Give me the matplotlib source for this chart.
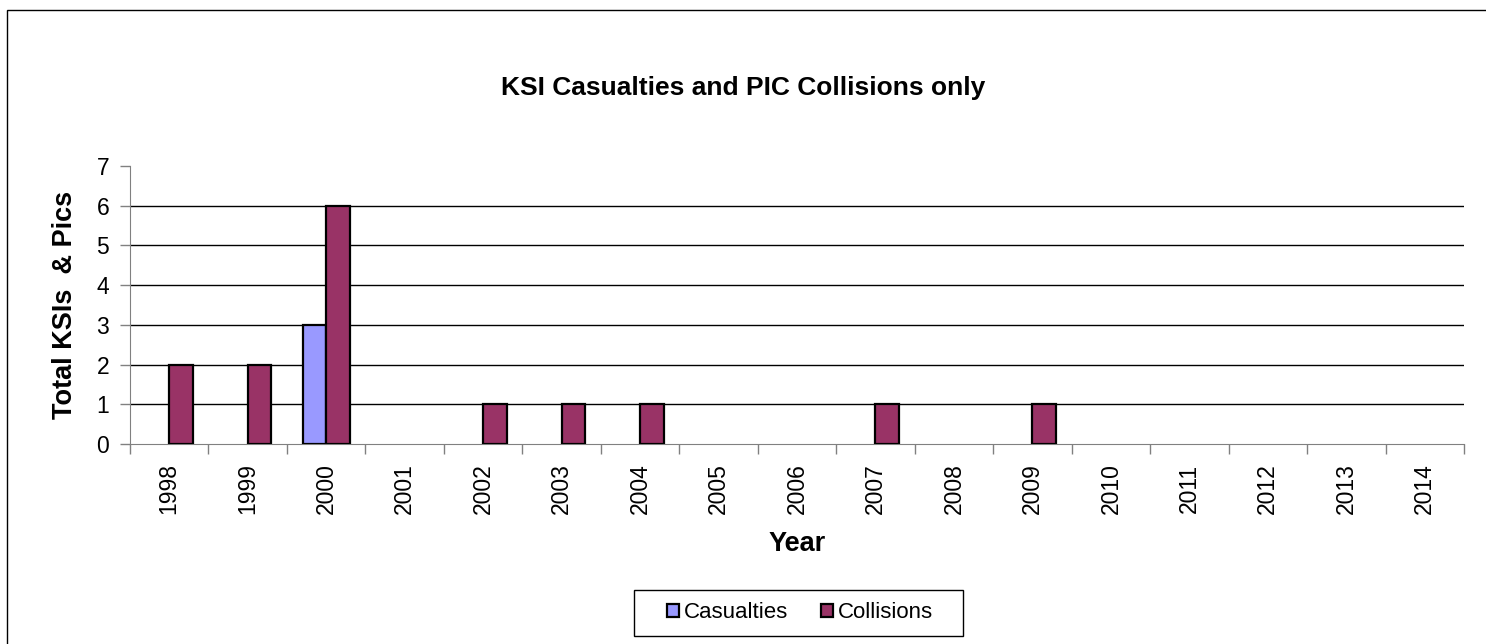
import numpy as np
import matplotlib.pyplot as plt
from matplotlib.patches import Rectangle

years = [str(y) for y in range(1998, 2015)]
casualties = [0, 0, 3, 0, 0, 0, 0, 0, 0, 0, 0, 0, 0, 0, 0, 0, 0]
collisions = [2, 2, 6, 0, 1, 1, 1, 0, 0, 1, 0, 1, 0, 0, 0, 0, 0]

plt.rcParams['font.family'] = ['Liberation Sans', 'DejaVu Sans']

fig = plt.figure(figsize=(14.86, 6.44), dpi=100)
ax = fig.add_axes([130/1486, 1-444/644, (1464-130)/1486, (444-166)/644])

# outer chart border (top and left only visible)
fig.add_artist(Rectangle((7/1486, -0.1), 1.2, 1-10/644+0.1, transform=fig.transFigure,
                         fill=False, edgecolor='black', linewidth=1))

x = np.arange(len(years))
w = 0.3
cas = np.array(casualties)
col = np.array(collisions)
ax.bar(x[cas > 0] - w/2, cas[cas > 0], width=w,
       color='#9999FF', edgecolor='black', linewidth=1.6, label='Casualties', zorder=3)
ax.bar(x[col > 0] + w/2, col[col > 0], width=w,
       color='#993366', edgecolor='black', linewidth=1.6, label='Collisions', zorder=3)

ax.set_xlim(-0.5, len(years) - 0.5)
ax.set_ylim(0, 7)
ax.set_yticks(range(8))
ax.tick_params(axis='y', labelsize=16.5, length=7, width=1, color='#808080', pad=8)
for yv in range(1, 7):
    ax.axhline(yv, color='black', linewidth=1, zorder=1)

ax.set_xticks(x)
ax.set_xticklabels(years, rotation=90, fontsize=16.5)
ax.set_xticks(np.arange(-0.5, len(years)), minor=True)
ax.tick_params(axis='x', which='major', length=0, pad=14)
ax.tick_params(axis='x', which='minor', length=7, width=1, color='#808080')

for s in ['top', 'right']:
    ax.spines[s].set_visible(False)
ax.spines['left'].set_color('#808080')
ax.spines['bottom'].set_color('#808080')

ax.set_xlabel('Year', fontsize=19.5, fontweight='bold', labelpad=12)
ax.set_ylabel('Total KSIs  & Pics', fontsize=19.5, fontweight='bold', labelpad=13)
fig.text(0.5, 1-88/644, 'KSI Casualties and PIC Collisions only', ha='center', va='center',
         fontsize=19, fontweight='bold')

# legend box drawn separately so it can be wider than the entries
fig.add_artist(Rectangle((634/1486, 1-636/644), (963-634)/1486, 46/644,
                         transform=fig.transFigure, fill=False, edgecolor='black', linewidth=1))
leg = fig.legend(loc='center', bbox_to_anchor=(800/1486, 1-613/644), ncol=2, fontsize=16,
                 frameon=False, handlelength=0.55, handleheight=0.55, handletextpad=0.2,
                 columnspacing=1.5)

fig.savefig('out.png', dpi=100)
